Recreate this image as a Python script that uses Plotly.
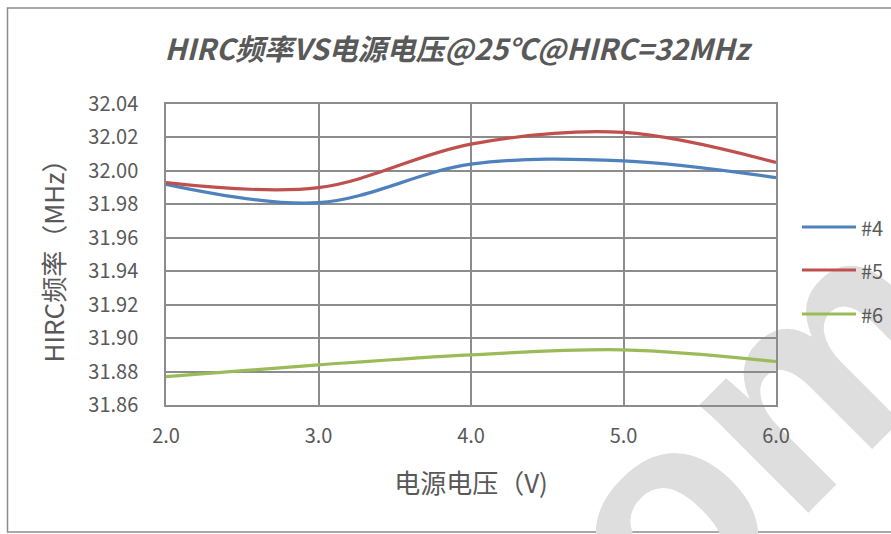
import plotly.graph_objects as go

# Supply voltage (V)
voltage = [2.0, 3.0, 4.0, 5.0, 6.0]

# HIRC frequency (MHz) per sample
freq_4 = [31.992, 31.981, 32.004, 32.006, 31.996]
freq_5 = [31.993, 31.990, 32.016, 32.023, 32.005]
freq_6 = [31.877, 31.884, 31.890, 31.893, 31.886]

series = [
    ("#4", freq_4, "#4F81BD"),
    ("#5", freq_5, "#C0504D"),
    ("#6", freq_6, "#9BBB59"),
]

y_ticks = [31.86, 31.88, 31.90, 31.92, 31.94, 31.96, 31.98, 32.00, 32.02, 32.04]
x_ticks = [2.0, 3.0, 4.0, 5.0, 6.0]

FONT = "Noto Sans CJK SC"
TEXT = "#595959"
GRID = "#8c8c8c"

W, H = 891, 534
L, R, T, B = 166, 115, 104, 129
PW, PH = W - L - R, H - T - B


def px(x):
    return (x - L) / PW


def py(y):
    return (H - B - y) / PH


fig = go.Figure()
for name, vals, color in series:
    fig.add_trace(go.Scatter(
        x=voltage, y=vals, name=name, mode="lines", showlegend=False,
        line=dict(color=color, width=3.2, shape="spline", smoothing=1.0),
    ))

# legend drawn as line samples with labels, one row per series
shapes = [
    # chart frame
    dict(type="rect", xref="paper", yref="paper",
         x0=px(7.5), x1=px(898), y0=py(532), y1=py(8),
         line=dict(color="#8c8c8c", width=1.5), fillcolor="rgba(0,0,0,0)",
         layer="below"),
    # watermark
    dict(type="rect", xref="paper", yref="paper",
         x0=px(635), x1=px(715), y0=py(505), y1=py(425),
         line=dict(width=0), fillcolor="rgba(0,0,0,0)", layer="below",
         label=dict(text="com", textangle=-45, textposition="middle center",
                    font=dict(family="Liberation Sans", size=290,
                              color="#dedede", weight="bold"))),
]
annotations = []
legend_rows = [227, 270, 314]
for (name, _, color), row in zip(series, legend_rows):
    shapes.append(dict(type="line", xref="paper", yref="paper",
                       x0=px(802), x1=px(856), y0=py(row), y1=py(row),
                       line=dict(color=color, width=3.2)))
    annotations.append(dict(text=name, xref="paper", yref="paper",
                            x=px(859), y=py(row), xanchor="left", yanchor="middle",
                            showarrow=False, font=dict(size=20, color=TEXT)))

fig.update_layout(
    width=W, height=H,
    margin=dict(l=L, r=R, t=T, b=B, pad=0),
    paper_bgcolor="white", plot_bgcolor="rgba(0,0,0,0)",
    font=dict(family=FONT, color=TEXT, size=20),
    showlegend=False,
    title=dict(
        text="HIRC频率VS电源电压@25℃@HIRC=32MHz",
        xref="container", x=457 / W, xanchor="center",
        yref="container", y=1 - 50 / H, yanchor="middle",
        font=dict(family=FONT, size=29, color=TEXT, weight="bold", style="italic"),
    ),
    xaxis=dict(
        range=[2.0, 6.0], tickvals=x_ticks, ticktext=[f"{v:.1f}" for v in x_ticks],
        showgrid=True, gridcolor=GRID, gridwidth=1.5,
        showline=True, linecolor=GRID, linewidth=1.5, mirror=True,
        zeroline=False, ticks="", ticklabelstandoff=12,
        tickfont=dict(size=20, color=TEXT),
        title=dict(text="电源电压（V)", font=dict(size=26, color=TEXT), standoff=27),
    ),
    yaxis=dict(
        range=[31.86, 32.04], tickvals=y_ticks, ticktext=[f"{v:.2f}" for v in y_ticks],
        showgrid=True, gridcolor=GRID, gridwidth=1.5,
        showline=True, linecolor=GRID, linewidth=1.5, mirror=True,
        zeroline=False, ticks="", ticklabelstandoff=22,
        tickfont=dict(size=20, color=TEXT),
        title=dict(text="HIRC频率（MHz）", font=dict(size=26, color=TEXT), standoff=16),
    ),
    shapes=shapes,
    annotations=annotations,
)

fig.write_html("out.html")
